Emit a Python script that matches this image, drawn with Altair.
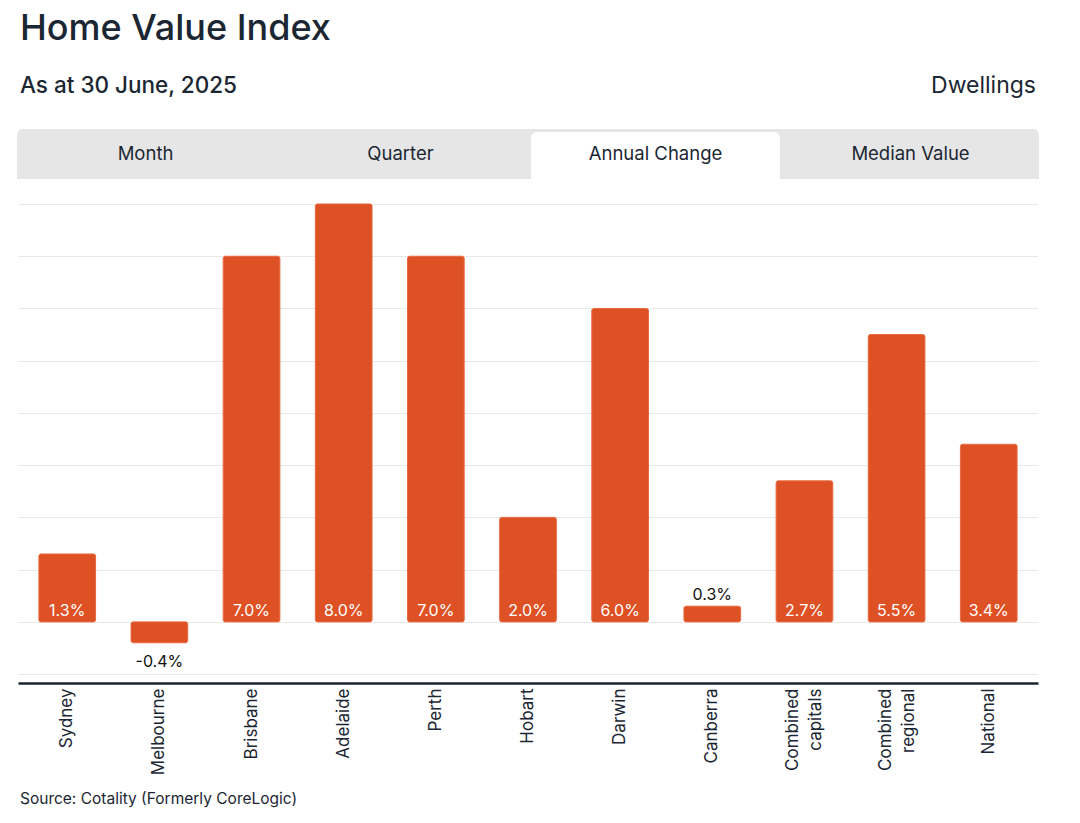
import altair as alt
import pandas as pd

FONT = "Inter"
DARK = "#1b2633"
BAR = "#DE5124"

TITLE = "Home Value Index"
SUBTITLE = "As at 30 June, 2025"
SEGMENT = "Dwellings"
SOURCE = "Source: Cotality (Formerly CoreLogic)"

TABS = ["Month", "Quarter", "Annual Change", "Median Value"]
ACTIVE_TAB = "Annual Change"

REGIONS = ["Sydney", "Melbourne", "Brisbane", "Adelaide", "Perth", "Hobart",
           "Darwin", "Canberra", "Combined|capitals", "Combined|regional", "National"]
CHANGE = [1.3, -0.4, 7.0, 8.0, 7.0, 2.0, 6.0, 0.3, 2.7, 5.5, 3.4]
GRID_TICKS = [-1, 0, 1, 2, 3, 4, 5, 6, 7, 8]

df = pd.DataFrame({"region": REGIONS, "value": CHANGE})
df["label"] = [f"{v:.1f}%" for v in CHANGE]
tabs_df = pd.DataFrame({"tab": TABS})
one = pd.DataFrame({"k": [0]})

# ---------- header / tabs ----------
title = alt.Chart(pd.DataFrame({"t": [TITLE]})).mark_text(
    align="left", baseline="alphabetic", fontSize=36, fontWeight=500, color=DARK, font=FONT
).encode(text="t:N", x=alt.value(2), y=alt.value(-164))

subtitle = alt.Chart(pd.DataFrame({"t": [SUBTITLE]})).mark_text(
    align="left", baseline="alphabetic", fontSize=22.5, fontWeight=500, color=DARK, font=FONT
).encode(text="t:N", x=alt.value(2), y=alt.value(-111))

segment = alt.Chart(pd.DataFrame({"t": [SEGMENT]})).mark_text(
    align="right", baseline="alphabetic", fontSize=23, color=DARK, font=FONT
).encode(text="t:N", x=alt.value(1018), y=alt.value(-111))

source = alt.Chart(pd.DataFrame({"t": [SOURCE]})).mark_text(
    align="left", baseline="alphabetic", fontSize=15.5, color=DARK, font=FONT
).encode(text="t:N", x=alt.value(2), y=alt.value(600))

tab_bg = alt.Chart(one).mark_rect(
    color="#e6e6e6", cornerRadiusTopLeft=6, cornerRadiusTopRight=6
).encode(x=alt.value(-1), x2=alt.value(1021), y=alt.value(-75), y2=alt.value(-25))

tab_x = alt.X("tab:N", sort=TABS, axis=None,
              scale=alt.Scale(paddingInner=0.024, paddingOuter=0.012))

tab_active = alt.Chart(tabs_df).transform_filter(
    alt.datum.tab == ACTIVE_TAB
).mark_bar(color="white", cornerRadiusTopLeft=6, cornerRadiusTopRight=6).encode(
    x=tab_x, y=alt.value(-72), y2=alt.value(-25)
)

tab_text = alt.Chart(tabs_df).mark_text(
    fontSize=18.5, color=DARK, baseline="middle", font=FONT
).encode(x=tab_x, y=alt.value(-50), text="tab:N")

header = alt.layer(tab_bg, tab_active, tab_text, title, subtitle, segment, source)

# ---------- bars ----------
x_enc = alt.X(
    "region:N", sort=REGIONS, title=None,
    scale=alt.Scale(paddingInner=0.385, paddingOuter=0.227),
    axis=alt.Axis(
        labelAngle=270, labelAlign="right", labelBaseline="middle",
        labelExpr="split(datum.label, '|')", labelLineHeight=23,
        labelOffset={"condition": {"test": "indexof(datum.value, '|') >= 0", "value": -11},
                     "value": 0},
        labelFontSize=17, labelColor=DARK, labelFont=FONT, labelPadding=5,
        labelLimit=0, ticks=False, domainColor=DARK, domainWidth=2.5, grid=False,
    ),
)
y_scale = alt.Scale(domain=[-1.17, 8], nice=False, zero=False)

bars = alt.Chart(df).mark_bar(
    color=BAR, cornerRadius=2, stroke="#e8683f", strokeWidth=1
).encode(
    x=x_enc,
    y=alt.Y("value:Q", scale=y_scale, title=None,
            axis=alt.Axis(values=GRID_TICKS, grid=True, labels=False, ticks=False,
                          domain=False, gridColor="#e8e8e8", gridWidth=1)),
    y2=alt.Y2("base:Q"),
).transform_calculate(base="0")

inside = alt.Chart(df).transform_filter("datum.value >= 1").transform_calculate(
    base="0"
).mark_text(color="white", fontSize=16, baseline="alphabetic", dy=-6, font=FONT).encode(
    x=x_enc, y=alt.Y("base:Q", scale=y_scale, title=None), text="label:N"
)

above = alt.Chart(df).transform_filter("datum.value >= 0 && datum.value < 1").mark_text(
    color="#111111", fontSize=16, baseline="alphabetic", dy=-6, font=FONT
).encode(x=x_enc, y=alt.Y("value:Q", scale=y_scale, title=None), text="label:N")

below = alt.Chart(df).transform_filter("datum.value < 0").mark_text(
    color="#111111", fontSize=16, baseline="top", dy=11, font=FONT
).encode(x=x_enc, y=alt.Y("value:Q", scale=y_scale, title=None), text="label:N")

plot = alt.layer(bars, inside, above, below)

chart = alt.layer(header, plot).resolve_scale(x="independent").properties(
    width=1020, height=479,
    padding={"left": 18, "top": 204, "right": 42, "bottom": 140},
    autosize=alt.AutoSizeParams(type="none"),
    background="white",
).configure_view(stroke=None)

chart.save("out.html", embed_options={"renderer": "svg", "actions": False})
